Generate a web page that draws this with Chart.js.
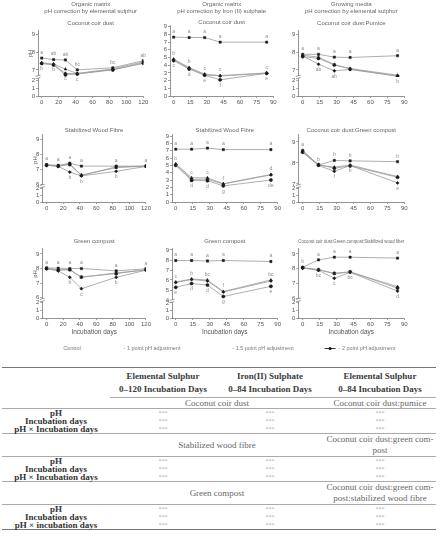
<!DOCTYPE html>
<html>
<head>
<meta charset="utf-8">
<title>pH correction of organic matrices and growing media</title>
<script src="https://cdn.jsdelivr.net/npm/chart.js@4.4.1/dist/chart.umd.min.js"></script>
<style>
  html, body { margin: 0; padding: 0; background: #fff; }
  body { position: relative; width: 440px; height: 550px; overflow: hidden;
         font-family: "Liberation Sans", Arial, sans-serif; }
  canvas { position: absolute; }
  .legend { position: absolute; top: 345px; font-size: 5.5px; line-height: 7px; color: #7a7a7a;
            white-space: nowrap; transform: translateX(-50%); }
  .mk { display: inline-block; position: relative; width: 11px; height: 7px; margin-right: 3px; vertical-align: top; }
  .mk::before { content: ""; position: absolute; left: 0; right: 0; top: 3px; border-top: 0.8px solid #333; }
  .mk::after { content: ""; position: absolute; left: 4px; top: 1.8px; width: 3px; height: 3px;
               border-radius: 50%; background: #111; }
  table.stats { position: absolute; left: 2px; top: 367px; width: 434px; border-collapse: collapse;
                table-layout: fixed; font-family: "Liberation Serif", "Times New Roman", serif;
                font-size: 9px; color: #3a3a3a; }
  .stats td, .stats th { padding: 0; text-align: center; vertical-align: middle; white-space: nowrap; }
  .stats tr.head td, .stats tr.head th { height: 29px; line-height: 13px; font-weight: bold;
                                         border-top: 1.5px solid #777; }
  .stats tr.head th { border-bottom: 0.8px solid #aaa; }
  .stats tr.sub td { height: 10px; line-height: 10px; color: #666; border-bottom: 0.8px solid #aaa; }
  .stats tr.sub.tall td { height: 22px; line-height: 11px; }
  .stats tr.row td { height: 8px; line-height: 8px; }
  .stats td.lab { font-weight: bold; color: #333; }
  .stats td.sig { font-size: 6px; color: #aaa; }
  .stats tr.end td { border-bottom: 0.8px solid #aaa; }
  .stats tr.last td { border-bottom: 1.5px solid #777; }
</style>
</head>
<body>
<script>
// ---- Dados (pH médio por dia de incubação) ----
var DAYS_120 = [0, 14, 28, 42, 84, 120];
var DAYS_84 = [0, 14, 28, 42, 84];
var SERIES_LABELS = ["Control", "- 1 point pH adjustment", "- 1.5 point pH adjustment", "- 2 point pH adjustment"];

var MATRIX_TITLES = [
  ["Organic matrix", "pH correction by elemental sulphur"],
  ["Organic matrix", "pH correction by Iron (II) sulphate"],
  ["Growing media", "pH correction by elemental sulphur"]
];
var SUBSTRATES = [
  ["Coconut coir dust", "Coconut coir dust", "Coconut coir dust:Pumice"],
  ["Stabilized Wood Fibre", "Stabilized Wood Fibre", "Coconut coir dust:Green compost"],
  ["Green compost", "Green compost", "Coconut coir dust:Green compost:Stabilized wood fiber"]
];
var X_TICKS_120 = [0, 20, 40, 60, 80, 100, 120];
var X_TICKS_90 = [0, 15, 30, 45, 60, 75, 90];
var Y_TICKS = [0, 1, 2, 3, 4, 5, 6, 7, 8, 9];
var X_TITLE = "Incubation days";

// séries: [controle, -1, -1.5, -2]
var COIR_SULPHUR = [
  [7.67, 7.58, 7.56, 7.0, 7.12, 7.52],
  [7.40, 7.33, 7.04, 6.80, 7.06, 7.45],
  [7.38, 7.30, 6.80, 6.79, 7.02, 7.36],
  [7.36, 7.28, 6.72, 6.77, 7.00, 7.40]
];
var COIR_IRON = [
  [7.65, 7.6, 7.6, 7.0, 7.0],
  [4.8, 3.7, 2.85, 2.65, 3.0],
  [4.7, 3.6, 2.75, 2.6, 2.95],
  [4.6, 3.5, 2.7, 2.1, 2.95]
];
var PUMICE_SULPHUR = [
  [7.88, 7.88, 7.72, 7.70, 7.80],
  [7.83, 7.72, 7.30, 7.08, 6.70],
  [7.78, 7.32, 6.95, 7.02, 6.66],
  [7.75, 7.65, 7.28, 7.05, 6.64]
];
var WOOD_SULPHUR = [
  [7.30, 7.25, 7.40, 7.20, 7.20, 7.20],
  [7.28, 7.20, 7.35, 6.60, 7.10, 7.20],
  [7.26, 7.18, 6.80, 6.55, 6.85, 7.18],
  [7.25, 7.20, 7.30, 6.58, 7.15, 7.20]
];
var WOOD_IRON = [
  [7.2, 7.2, 7.35, 7.15, 7.15],
  [5.2, 3.3, 3.3, 2.5, 3.75],
  [5.1, 3.1, 3.1, 2.45, 3.7],
  [5.0, 2.95, 2.9, 2.2, 3.0]
];
var COIR_GREEN_SULPHUR = [
  [8.60, 7.90, 8.12, 8.10, 8.06],
  [8.55, 7.90, 7.80, 7.90, 7.35],
  [8.50, 7.88, 7.60, 7.88, 7.05],
  [8.52, 7.92, 7.75, 7.86, 7.32]
];
var GREEN_SULPHUR = [
  [8.04, 8.02, 8.00, 8.00, 7.84, 7.98],
  [8.00, 7.93, 7.91, 7.40, 7.70, 7.90],
  [7.98, 7.84, 7.40, 6.62, 7.40, 7.88],
  [8.00, 7.88, 7.92, 7.42, 7.65, 7.92]
];
var GREEN_IRON = [
  [7.95, 7.95, 7.90, 7.95, 7.85],
  [5.80, 6.10, 6.00, 4.85, 6.00],
  [5.75, 6.05, 5.90, 4.80, 5.90],
  [5.27, 5.65, 5.50, 4.35, 5.37]
];
var MIX_SULPHUR = [
  [8.10, 8.60, 8.78, 8.78, 8.72],
  [8.05, 7.95, 7.67, 7.78, 6.80],
  [8.05, 7.90, 7.36, 7.76, 6.50],
  [8.08, 7.93, 7.70, 7.80, 6.70]
];

// letras de significância: [série, acima(1)/abaixo(-1), letras por dia]
var COIR_SULPHUR_LETTERS = [[0, 1, ["a", "ab", "ab", "bc", "bc", "ab"]], [2, -1, ["b", "b", "c", "c", "", ""]]];
var COIR_IRON_LETTERS = [[0, 1, ["a", "a", "a", "a", "a"]], [1, 1, ["b", "b", "c", "c", "c"]], [3, -1, ["c", "d", "e", "f", "e"]]];
var PUMICE_SULPHUR_LETTERS = [[0, 1, ["a", "a", "a", "a", "a"]], [2, -1, ["", "ab", "ab", "", "b"]]];
var WOOD_SULPHUR_LETTERS = [[0, 1, ["a", "a", "a", "a", "a", "a"]], [2, -1, ["", "", "b", "b", "b", ""]]];
var WOOD_IRON_LETTERS = [[0, 1, ["a", "a", "a", "a", "a"]], [1, 1, ["b", "c", "c", "f", "d"]], [3, -1, ["", "d", "d", "g", "de"]]];
var COIR_GREEN_SULPHUR_LETTERS = [[0, 1, ["a", "b", "b", "b", "b"]], [2, -1, ["", "", "f", "b", "e"]]];
var GREEN_SULPHUR_LETTERS = [[0, 1, ["a", "a", "a", "a", "a", "a"]], [2, -1, ["", "", "b", "c", "b", ""]]];
var GREEN_IRON_LETTERS = [[0, 1, ["a", "a", "a", "a", "a"]], [1, 1, ["c", "b", "bc", "f", "bc"]], [3, -1, ["e", "d", "d", "g", "e"]]];
var MIX_SULPHUR_LETTERS = [[0, 1, ["b", "a", "a", "a", "a"]], [2, -1, ["", "bc", "c", "bc", "d"]]];

// tabela (ANOVA)
var COL_HEADS = [["Elemental Sulphur", "0–120 Incubation Days"], ["Iron(II) Sulphate", "0–84 Incubation Days"], ["Elemental Sulphur", "0–84 Incubation Days"]];
var GROUPS_LEFT = ["Coconut coir dust", "Stabilized wood fibre", "Green compost"];
var GROUPS_RIGHT = [["Coconut coir dust:pumice"], ["Coconut coir dust:green com-", "post"], ["Coconut coir dust:green com-", "post:stabilized wood fibre"]];
var EFFECTS = [["pH", "Incubation days", "pH × Incubation days"], ["pH", "Incubation days", "pH × Incubation days"], ["pH", "Incubation days", "pH × incubation days"]];
var SIGNIF = "***";

// ---- estilos ----
var AXIS = "#777";
var TICK = "#555";
var LINE = "#9a9a9a";
var MARK = "#1a1a1a";
var LETTER = "#8a8a8a";
var MARKERS = ["rect", "triangle", "rectRot", "circle"];
var YW = 11; // largura fixa do eixo y

Chart.defaults.font.family = '"Liberation Sans", Arial, sans-serif';
Chart.defaults.font.size = 6;
Chart.defaults.color = TICK;

// marca de quebra entre o trecho alto e o trecho 0-2 do eixo y
var breakMarks = {
  id: "breakMarks",
  afterDraw: function (chart) {
    var lo = chart.scales.yLow, hi = chart.scales.y;
    if (!lo) return;
    var ctx = chart.ctx, x = hi.right;
    var yb = hi.top < lo.top ? hi.bottom : hi.top;
    ctx.save();
    ctx.fillStyle = "#fff";
    ctx.fillRect(x - 3, yb - 1.2, 6, 2.4);
    ctx.strokeStyle = AXIS;
    ctx.lineWidth = 0.7;
    ctx.beginPath();
    ctx.moveTo(x - 2.5, yb - 0.6); ctx.lineTo(x + 2.5, yb - 1.8);
    ctx.moveTo(x - 2.5, yb + 1.8); ctx.lineTo(x + 2.5, yb + 0.6);
    ctx.stroke();
    ctx.restore();
  }
};

var letterPlugin = {
  id: "letters",
  afterDatasetsDraw: function (chart, args, opts) {
    var marks = opts.marks || [];
    var xs = chart.scales.x, ys = chart.scales.y, ctx = chart.ctx;
    ctx.save();
    ctx.font = '5px "Liberation Sans", Arial, sans-serif';
    ctx.fillStyle = LETTER;
    ctx.textAlign = "center";
    ctx.textBaseline = "middle";
    marks.forEach(function (m) {
      var pts = chart.data.datasets[m[0]].data;
      m[2].forEach(function (t, i) {
        if (!t) return;
        ctx.fillText(t, xs.getPixelForValue(pts[i].x), ys.getPixelForValue(pts[i].y) - m[1] * 5.5);
      });
    });
    ctx.restore();
  }
};

function yAxis(range, weight, withTitle) {
  var s = {
    type: "linear", position: "left", bounds: "data", min: range[0], max: range[1],
    afterBuildTicks: function (sc) {
      sc.ticks = Y_TICKS.filter(function (v) { return v >= sc.min - 1e-9 && v <= sc.max + 1e-9; })
        .map(function (v) { return { value: v }; });
    },
    ticks: { padding: 1, color: TICK, autoSkip: false, font: { size: 6 } },
    grid: { drawOnChartArea: false, tickLength: 2, color: AXIS, lineWidth: 0.7 },
    border: { color: AXIS, width: 0.8 },
    title: { display: !!withTitle, text: "pH", padding: 0, color: TICK, font: { size: 6 } },
    afterFit: function (sc) { sc.width = YW; }
  };
  if (weight) { s.stack = "ph"; s.stackWeight = weight; }
  return s;
}

function panel(p) {
  var cv = document.createElement("canvas");
  cv.width = p.w; cv.height = p.h;
  cv.style.left = p.left + "px"; cv.style.top = p.top + "px";
  document.body.appendChild(cv);

  var datasets = p.series.map(function (vals, k) {
    return {
      label: SERIES_LABELS[k],
      data: p.days.map(function (d, i) { return { x: d, y: vals[i] }; }),
      yAxisID: "y",
      borderColor: LINE,
      borderWidth: 0.8,
      pointStyle: MARKERS[k],
      pointRadius: 1.6,
      pointBackgroundColor: MARK,
      pointBorderColor: MARK,
      pointBorderWidth: 0.5,
      tension: 0
    };
  });

  var xt = p.days.length === 6 ? X_TICKS_120 : X_TICKS_90;
  var scales = {};
  // o eixo baixo (0-2) é declarado antes para ficar embaixo na pilha
  if (p.lower) scales.yLow = yAxis(p.lower, p.wLow, false);
  scales.y = yAxis(p.upper, p.lower ? p.wUp : 0, p.ph);
  scales.x = {
    type: "linear", bounds: "data", min: p.xMin, max: xt[xt.length - 1],
    afterBuildTicks: function (sc) { sc.ticks = xt.map(function (v) { return { value: v }; }); },
    ticks: { padding: 1, color: TICK, maxRotation: 0, autoSkip: false, font: { size: 6 } },
    grid: { drawOnChartArea: false, tickLength: 2, color: AXIS, lineWidth: 0.7 },
    border: { color: AXIS, width: 0.8 },
    title: { display: !!p.xTitle, text: X_TITLE, color: TICK, padding: { top: 0, bottom: 2 }, font: { size: 6.5 } },
    afterFit: function (sc) { sc.height = p.xh; }
  };

  var title = { display: true, fullSize: false, color: "#666", text: p.title,
                font: { size: 6, weight: "normal", lineHeight: 1.2 }, padding: p.titlePad };
  var subtitle = { display: !!p.subtitle, fullSize: false, color: "#666", text: p.subtitle || "",
                   font: { size: 6, weight: "normal", lineHeight: 1.2 }, padding: p.subPad || { top: 1, bottom: 3.4 } };

  new Chart(cv, {
    type: "line",
    data: { datasets: datasets },
    options: {
      responsive: false,
      animation: false,
      layout: { padding: { left: p.areaLeft - p.left - YW, right: p.left + p.w - p.areaRight, top: 0, bottom: 0 } },
      scales: scales,
      plugins: {
        legend: { display: false },
        tooltip: { enabled: false },
        title: title,
        subtitle: subtitle,
        letters: { marks: p.letters }
      }
    },
    plugins: [breakMarks, letterPlugin]
  });
}

var R1 = { top: 0, h: 106, xh: 10, titlePad: { top: 1, bottom: 3 } };
var R2 = { top: 116, h: 96, xh: 10, titlePad: { top: 11, bottom: 0 } };
var R3 = { top: 225, h: 113, xh: 20, titlePad: { top: 12.4, bottom: 3.4 } };

function row(r, extra) {
  var o = {};
  Object.keys(r).forEach(function (k) { o[k] = r[k]; });
  Object.keys(extra).forEach(function (k) { o[k] = extra[k]; });
  return o;
}

// ---- linha 1 ----
panel(row(R1, { left: 0, w: 152, areaLeft: 38, areaRight: 143.3, xMin: -4.4, ph: true,
  title: MATRIX_TITLES[0], subtitle: SUBSTRATES[0][0], days: DAYS_120, series: COIR_SULPHUR,
  letters: COIR_SULPHUR_LETTERS, upper: [6.6, 9.25], lower: [0, 2.4], wUp: 47, wLow: 19 }));
panel(row(R1, { left: 147, w: 136, areaLeft: 170, areaRight: 273.3, xMin: -3.3,
  title: MATRIX_TITLES[1], subtitle: SUBSTRATES[0][1], subPad: { top: 0, bottom: 0 }, days: DAYS_84, series: COIR_IRON,
  letters: COIR_IRON_LETTERS, upper: [0, 9.15] }));
panel(row(R1, { left: 284, w: 156, areaLeft: 298.3, areaRight: 404.3, xMin: -3.9,
  title: MATRIX_TITLES[2], subtitle: SUBSTRATES[0][2], days: DAYS_84, series: PUMICE_SULPHUR,
  letters: PUMICE_SULPHUR_LETTERS, upper: [6.6, 9.25], lower: [0, 2.4], wUp: 47, wLow: 19 }));

// ---- linha 2 ----
panel(row(R2, { left: 0, w: 152, areaLeft: 42.3, areaRight: 148.5, xMin: -5.2, ph: true,
  title: SUBSTRATES[1][0], days: DAYS_120, series: WOOD_SULPHUR,
  letters: WOOD_SULPHUR_LETTERS, upper: [5.87, 9.33], lower: [0, 2.33], wUp: 52, wLow: 16 }));
panel(row(R2, { left: 147, w: 136, areaLeft: 172, areaRight: 277.7, xMin: -3.3,
  title: SUBSTRATES[1][1], days: DAYS_84, series: WOOD_IRON,
  letters: WOOD_IRON_LETTERS, upper: [0, 9.25] }));
panel(row(R2, { left: 284, w: 156, areaLeft: 298.3, areaRight: 404.3, xMin: -3.9,
  title: SUBSTRATES[1][2], days: DAYS_84, series: COIR_GREEN_SULPHUR,
  letters: COIR_GREEN_SULPHUR_LETTERS, upper: [6.9, 9.37], lower: [0, 2.3], wUp: 52, wLow: 16 }));

// ---- linha 3 ----
panel(row(R3, { left: 0, w: 152, areaLeft: 42.3, areaRight: 148.5, xMin: -5.2, ph: true, xTitle: true,
  title: SUBSTRATES[2][0], days: DAYS_120, series: GREEN_SULPHUR,
  letters: GREEN_SULPHUR_LETTERS, upper: [5.85, 9.4], lower: [0, 2.3], wUp: 52, wLow: 18 }));
panel(row(R3, { left: 147, w: 136, areaLeft: 172, areaRight: 277.7, xMin: -3.3, xTitle: true,
  title: SUBSTRATES[2][1], days: DAYS_84, series: GREEN_IRON,
  letters: GREEN_IRON_LETTERS, upper: [3.9, 9.2], lower: [0, 2.25], wUp: 53, wLow: 17 }));
panel(row(R3, { left: 284, w: 156, areaLeft: 298.3, areaRight: 404.3, xMin: -3.9, xTitle: true,
  title: SUBSTRATES[2][2], days: DAYS_84, series: MIX_SULPHUR,
  letters: MIX_SULPHUR_LETTERS, upper: [5.9, 9.4], lower: [0, 2.3], wUp: 52, wLow: 18 }));

// ---- legenda ----
var LEGEND_X = [72, 152, 263, 360];
SERIES_LABELS.forEach(function (label, i) {
  var el = document.createElement("div");
  el.className = "legend";
  el.style.left = LEGEND_X[i] + "px";
  el.style.color = "#7a7a7a";
  if (i === SERIES_LABELS.length - 1) {
    var mk = document.createElement("span");
    mk.className = "mk";
    el.appendChild(mk);
  }
  el.appendChild(document.createTextNode(label));
  document.body.appendChild(el);
});

// ---- tabela ----
(function () {
  var tb = document.createElement("table");
  tb.className = "stats";
  var cg = document.createElement("colgroup");
  [108, 106, 108, 112].forEach(function (w) {
    var c = document.createElement("col");
    c.style.width = w + "px";
    cg.appendChild(c);
  });
  tb.appendChild(cg);

  var head = tb.insertRow();
  head.className = "head";
  head.insertCell();
  COL_HEADS.forEach(function (h) {
    var th = document.createElement("th");
    th.innerHTML = h.join("<br>");
    head.appendChild(th);
  });

  GROUPS_LEFT.forEach(function (g, gi) {
    var sub = tb.insertRow();
    sub.className = "sub" + (GROUPS_RIGHT[gi].length > 1 ? " tall" : "");
    sub.insertCell();
    var left = sub.insertCell();
    left.colSpan = 2;
    left.textContent = g;
    var right = sub.insertCell();
    right.innerHTML = GROUPS_RIGHT[gi].join("<br>");

    EFFECTS[gi].forEach(function (e, ei) {
      var r = tb.insertRow();
      r.className = "row" + (ei === EFFECTS[gi].length - 1 ? (gi === GROUPS_LEFT.length - 1 ? " last" : " end") : "");
      var lab = r.insertCell();
      lab.className = "lab";
      lab.textContent = e;
      for (var k = 0; k < 3; k++) {
        var s = r.insertCell();
        s.className = "sig";
        s.textContent = SIGNIF;
      }
    });
  });
  document.body.appendChild(tb);
})();
</script>
</body>
</html>
